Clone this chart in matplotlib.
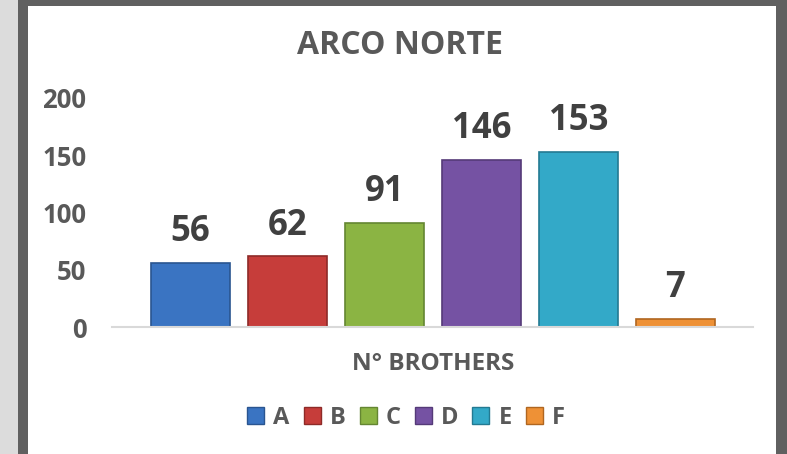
import matplotlib
matplotlib.use('Agg')
import matplotlib.pyplot as plt
from matplotlib.patches import Rectangle, Patch

categorias = ['A', 'B', 'C', 'D', 'E', 'F']
valores = [56, 62, 91, 146, 153, 7]
cores = ['#3a74c2', '#c63d3a', '#8bb443', '#7552a3', '#33a9c8', '#ee9136']
bordas = ['#2a5590', '#8e2a28', '#648632', '#553a78', '#237a92', '#b06620']
yticks = [0, 50, 100, 150, 200]

plt.rcParams['font.family'] = ['Open Sans', 'DejaVu Sans']
W, H = 787, 454
fig = plt.figure(figsize=(W / 100, H / 100), dpi=100)
fig.patch.set_facecolor('#dcdcdc')

# moldura: sombra escura e area branca
fig.patches.append(Rectangle((18 / W, 0), 1 - 18 / W, 1, transform=fig.transFigure,
                             facecolor='#606060', edgecolor='none', zorder=0))
fig.patches.append(Rectangle((28 / W, 0), (776 - 28) / W, (H - 6) / H, transform=fig.transFigure,
                             facecolor='white', edgecolor='none', zorder=0))

ax = fig.add_axes([112 / W, 127 / H, 641 / W, 229 / H])
ax.set_zorder(2)
ax.set_facecolor('none')
x = list(range(len(categorias)))
barras = ax.bar(x, valores, width=0.81, color=cores, edgecolor=bordas, linewidth=1.2)

for xi, v in zip(x, valores):
    ax.annotate(str(v), (xi, v), xytext=(0, 9), textcoords='offset points',
                ha='center', va='bottom', fontsize=25, fontweight='bold',
                color='#404040', clip_on=False)

ax.set_xlim(-0.81, 5.80)
ax.set_ylim(0, 200)
ax.set_yticks(yticks)
ax.set_xticks([])
ax.tick_params(axis='y', length=0, pad=18.5, labelsize=18.5, labelcolor='#595959')
for lbl in ax.get_yticklabels():
    lbl.set_fontweight('bold')
for s in ['top', 'right', 'left']:
    ax.spines[s].set_visible(False)
ax.spines['bottom'].set_color('#d9d9d9')
ax.spines['bottom'].set_linewidth(1.5)

fig.text(400 / W, 1 - 46 / H, 'ARCO NORTE', ha='center', va='center',
         fontsize=23, fontweight='bold', color='#595959', zorder=3)
fig.text(433 / W, 1 - 364 / H, 'N° BROTHERS', ha='center', va='center',
         fontsize=17.5, fontweight='bold', color='#595959', zorder=3)

handles = [Patch(facecolor=c, edgecolor=b, label=l) for c, b, l in zip(cores, bordas, categorias)]
leg = fig.legend(handles=handles, loc='center', bbox_to_anchor=(406 / W, 1 - 418 / H),
                 ncol=6, frameon=False, handlelength=0.72, handleheight=0.72,
                 handletextpad=0.38, columnspacing=0.6,
                 prop={'size': 17, 'weight': 'bold'})
leg.set_zorder(3)
for t in leg.get_texts():
    t.set_color('#595959')

plt.savefig('out.png', dpi=100)
plt.close()
